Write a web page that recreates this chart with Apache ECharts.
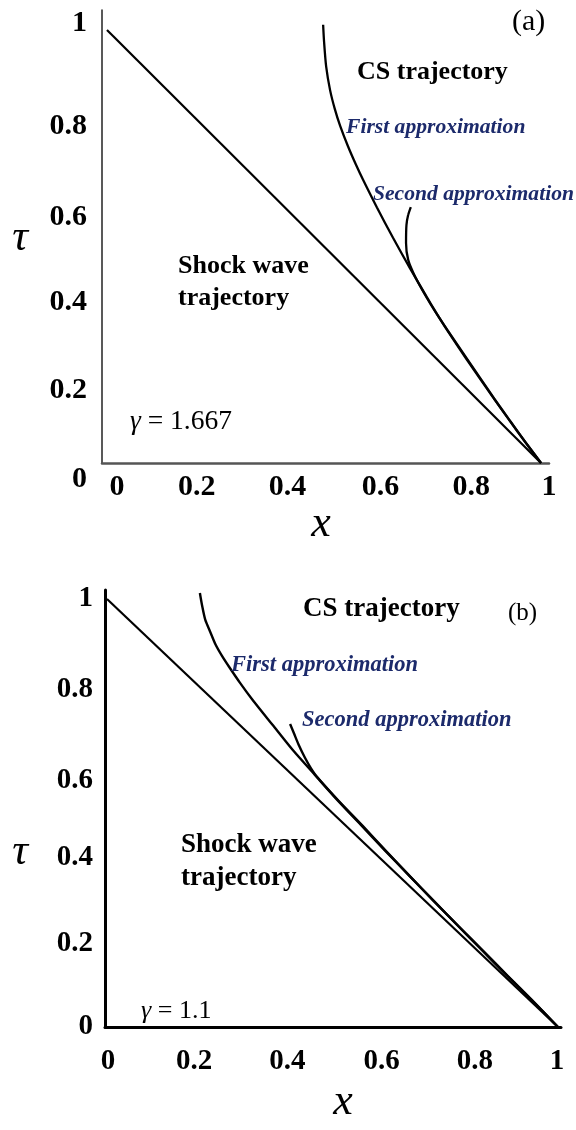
<!DOCTYPE html>
<html><head><meta charset="utf-8">
<script src="https://cdn.jsdelivr.net/npm/echarts@6/dist/echarts.min.js"></script>
<style>html,body{margin:0;padding:0;background:#fff}#c{width:576px;height:1130px}</style>
</head><body><div id="c"></div>
<script>
// ---- data ----
const tickValues = [0, 0.2, 0.4, 0.6, 0.8, 1];
const tickLabels = ['0', '0.2', '0.4', '0.6', '0.8', '1'];

// Panel (a), gamma = 1.667  : [x, tau]
const shockA = [[0, 1], [1, 0]];
const firstApproxA = [[0.498,1.012],[0.500,0.975],[0.505,0.915],[0.514,0.861],[0.525,0.817],[0.537,0.779],[0.555,0.732],[0.574,0.688],[0.590,0.654],[0.622,0.590],[0.659,0.520],[0.698,0.450],[0.737,0.383],[0.758,0.348],[0.783,0.308],[0.829,0.239],[0.889,0.152],[0.926,0.100],[0.963,0.049],[1,0]];
const secondApproxA = [[0.700,0.591],[0.694,0.573],[0.690,0.550],[0.689,0.508],[0.694,0.469],[0.710,0.430],[0.733,0.388],[0.756,0.350],[0.785,0.306],[0.832,0.237],[0.892,0.149],[0.929,0.097],[0.965,0.047],[1,0]];

// Panel (b), gamma = 1.1
const shockB = [[0, 1], [1, 0]];
const firstApproxB = [[0.206,1.014],[0.211,0.984],[0.218,0.951],[0.229,0.923],[0.241,0.893],[0.255,0.867],[0.271,0.841],[0.295,0.804],[0.323,0.764],[0.367,0.706],[0.412,0.647],[0.461,0.589],[0.511,0.530],[0.563,0.472],[0.615,0.414],[0.669,0.355],[0.722,0.297],[0.777,0.238],[0.831,0.180],[0.886,0.121],[0.942,0.063],[1,0]];
const secondApproxB = [[0.406,0.708],[0.415,0.685],[0.426,0.657],[0.439,0.629],[0.452,0.605],[0.466,0.584],[0.514,0.528],[0.567,0.470],[0.619,0.411],[0.672,0.352],[0.725,0.294],[0.779,0.236],[0.834,0.178],[0.889,0.119],[0.944,0.061],[1,0]];

// ---- styling ----
const SERIF = '"Liberation Serif", "Times New Roman", serif';
const NAVY = '#1c2a6b';
// per-label pixel nudges (matching the hand-placed labels of the original figure)
const nudgeAx = [10, 3, 7, 13, 17, 8];
const nudgeAy = [16, 14, 12, 14, 10, -7];
const nudgeBx = [1, -3, 0, 4, 7, -1];
const nudgeBy = [0, 2, 2, 10, 5, 0];

function axisLabels(shifts, vertical, margin, size) {
  const rich = {};
  shifts.forEach((d, i) => {
    const p = vertical ? (d >= 0 ? [2*d,0,0,0] : [0,0,-2*d,0]) : (d >= 0 ? [0,0,0,2*d] : [0,-2*d,0,0]);
    rich['t' + i] = {fontFamily: SERIF, fontWeight: 'bold', fontSize: size, color: '#000', padding: p};
  });
  return {
    show: true, customValues: tickValues, margin: margin,
    fontFamily: SERIF, fontWeight: 'bold', fontSize: size, color: '#000', rich: rich,
    formatter: function (v) {
      const i = tickValues.findIndex(t => Math.abs(t - v) < 1e-6);
      return i < 0 ? '' : '{t' + i + '|' + tickLabels[i] + '}';
    }
  };
}

function txt(text, x, y, size, opts) {
  opts = opts || {};
  return {
    type: 'text', x: x, y: y, silent: true, z: 10,
    style: Object.assign({
      text: text, fontFamily: SERIF, fontSize: size,
      fontWeight: opts.bold ? 'bold' : 'normal',
      fontStyle: opts.italic ? 'italic' : 'normal',
      fill: opts.color || '#000',
      align: opts.align || 'left', verticalAlign: 'middle',
      textAlign: opts.align || 'left', textVerticalAlign: 'middle'
    }, opts.rich ? {rich: opts.rich} : {})
  };
}

function lineSeries(data, xi, w, z) {
  return {type: 'line', xAxisIndex: xi, yAxisIndex: xi, data: data, showSymbol: false,
    smooth: 0.25, lineStyle: {color: '#000', width: w}, z: z || 2, silent: true};
}

const chart = echarts.init(document.getElementById('c'), null, {renderer: 'canvas'});
chart.setOption({
  animation: false,
  backgroundColor: '#fff',
  grid: [
    {left: 102, top: 10, width: 447, height: 453, containLabel: false, outerBoundsMode: 'none'},
    {left: 105, top: 590, width: 456, height: 437, containLabel: false, outerBoundsMode: 'none'}
  ],
  xAxis: [
    {type: 'value', gridIndex: 0, min: -0.0115, max: 1.0184,
      axisLine: {show: true, onZero: false, lineStyle: {color: '#555', width: 2.5}},
      axisTick: {show: false}, splitLine: {show: false},
      axisLabel: axisLabels(nudgeAx, false, 9, 30)},
    {type: 'value', gridIndex: 1, min: -0.0044, max: 1.0067,
      axisLine: {show: true, onZero: false, lineStyle: {color: '#000', width: 3}},
      axisTick: {show: false}, splitLine: {show: false},
      axisLabel: axisLabels(nudgeBx, false, 20, 29)}
  ],
  yAxis: [
    {type: 'value', gridIndex: 0, min: 0, max: 1.046,
      axisLine: {show: true, onZero: false, lineStyle: {color: '#222', width: 1.5}},
      axisTick: {show: false}, splitLine: {show: false},
      axisLabel: axisLabels(nudgeAy, true, 15, 30)},
    {type: 'value', gridIndex: 1, min: 0, max: 1.021,
      axisLine: {show: true, onZero: false, lineStyle: {color: '#000', width: 3}},
      axisTick: {show: false}, splitLine: {show: false},
      axisLabel: axisLabels(nudgeBy, true, 12, 29)}
  ],
  series: [
    lineSeries(shockA, 0, 2.2),
    lineSeries(firstApproxA, 0, 2.3),
    lineSeries(secondApproxA, 0, 2.3),
    lineSeries(shockB, 1, 2.2),
    lineSeries(firstApproxB, 1, 2.4),
    lineSeries(secondApproxB, 1, 2.4)
  ],
  graphic: [
    // panel (a)
    txt('(a)', 512, 22, 30),
    txt('CS trajectory', 357, 72, 26, {bold: true}),
    txt('First approximation', 346, 127, 21.6, {bold: true, italic: true, color: NAVY}),
    txt('Second approximation', 373, 194, 21.6, {bold: true, italic: true, color: NAVY}),
    txt('Shock wave', 178, 266, 26, {bold: true}),
    txt('trajectory', 178, 298, 26, {bold: true}),
    txt('{g|γ} = 1.667', 130, 422, 27.5, {rich: {g: {fontStyle: 'italic', fontFamily: SERIF, fontSize: 27.5}}}),
    txt('τ', 20, 238, 44, {italic: true, align: 'center'}),
    txt('x', 321, 524, 44, {italic: true, align: 'center'}),
    // panel (b)
    txt('CS trajectory', 303, 609, 27, {bold: true}),
    txt('(b)', 508, 613, 25),
    txt('First approximation', 231, 665, 22.5, {bold: true, italic: true, color: NAVY}),
    txt('Second approximation', 302, 720, 22.5, {bold: true, italic: true, color: NAVY}),
    txt('Shock wave', 181, 845, 27, {bold: true}),
    txt('trajectory', 181, 878, 27, {bold: true}),
    txt('{g|γ} = 1.1', 141, 1011, 26, {rich: {g: {fontStyle: 'italic', fontFamily: SERIF, fontSize: 26}}}),
    txt('τ', 20, 852, 44, {italic: true, align: 'center'}),
    txt('x', 343, 1102, 44, {italic: true, align: 'center'})
  ]
});
</script></body></html>
